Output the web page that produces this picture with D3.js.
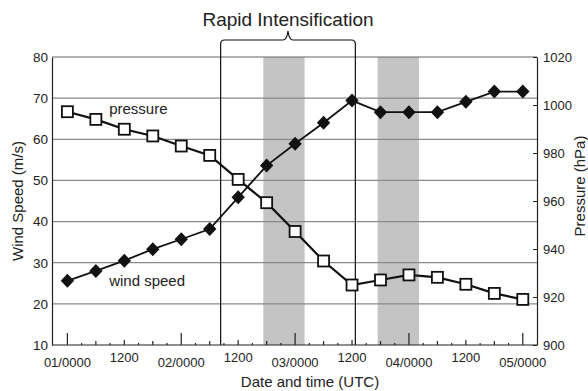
<!DOCTYPE html>
<html>
<head>
<meta charset="utf-8">
<script src="https://cdn.jsdelivr.net/npm/d3@7"></script>
<style>
  body { margin: 0; background: #fff; }
  svg { font-family: "Liberation Sans", Arial, sans-serif; }
</style>
</head>
<body>
<svg id="chart" width="588" height="391"></svg>
<script>
// hours after 01/0000 UTC
const obsHours = [0, 6, 12, 18, 24, 30, 36, 42, 48, 54, 60, 66, 72, 78, 84, 90, 96];
const windSpeed = [25.6, 28.0, 30.5, 33.3, 35.7, 38.2, 45.9, 53.6, 58.9, 64.0, 69.4, 66.6, 66.6, 66.6, 69.1, 71.6, 71.6];
const pressure = [997.2, 994.0, 989.9, 987.1, 982.9, 979.0, 969.0, 959.3, 947.3, 935.0, 925.0, 927.1, 929.2, 928.2, 925.3, 921.5, 919.0];

const xTickHours = [0, 12, 24, 36, 48, 60, 72, 84, 96];
const xTickLabels = ["01/0000", "1200", "02/0000", "1200", "03/0000", "1200", "04/0000", "1200", "05/0000"];
const windTicks = [10, 20, 30, 40, 50, 60, 70, 80];
const pressureTicks = [900, 920, 940, 960, 980, 1000, 1020];

// shaded periods and the rapid intensification window (hours)
const shadedBands = [[41.3, 50.0], [65.4, 74.1]];
const riPeriod = [32.3, 60.7];

const L = 52, R = 537, T = 57, B = 345;
const svg = d3.select("#chart");

const x = d3.scaleLinear().domain([0, 96]).range([67.4, 522.8]);
const yL = d3.scaleLinear().domain([10, 80]).range([B, T]);
const yR = d3.scaleLinear().domain([900, 1020]).range([B, T]);

// shaded bands
svg.append("g").selectAll("rect")
    .data(shadedBands)
    .enter().append("rect")
    .attr("x", d => x(d[0]))
    .attr("y", T)
    .attr("width", d => x(d[1]) - x(d[0]))
    .attr("height", B - T)
    .attr("fill", "#c4c4c4");

// gridlines
svg.append("g").selectAll("line")
    .data(windTicks.slice(1))
    .enter().append("line")
    .attr("x1", L).attr("x2", R)
    .attr("y1", d => yL(d)).attr("y2", d => yL(d))
    .attr("stroke", d => d === 80 ? "#666" : "#8a8a8a")
    .attr("stroke-width", 1.2);

// rapid intensification lines + brace
const riX0 = x(riPeriod[0]), riX1 = x(riPeriod[1]), riMid = (riX0 + riX1) / 2;
svg.append("g").selectAll("line")
    .data(riPeriod)
    .enter().append("line")
    .attr("x1", d => x(d)).attr("x2", d => x(d))
    .attr("y1", 44).attr("y2", B)
    .attr("stroke", "#111").attr("stroke-width", 1.2);

const r = 4;
svg.append("path")
    .attr("d", `M${riX0},44 Q${riX0},40 ${riX0 + r},40 L${riMid - 5},40 Q${riMid - 1},40 ${riMid},31
                Q${riMid + 1},40 ${riMid + 5},40 L${riX1 - r},40 Q${riX1},40 ${riX1},44`)
    .attr("fill", "none").attr("stroke", "#111").attr("stroke-width", 1.2);

svg.append("text")
    .attr("x", riMid).attr("y", 26)
    .attr("text-anchor", "middle")
    .attr("font-size", 19).attr("fill", "#222")
    .text("Rapid Intensification");

// left axis
svg.append("g")
    .attr("transform", `translate(${L},0)`)
    .call(d3.axisLeft(yL).tickValues(windTicks).tickSize(0).tickPadding(4).tickFormat(d3.format("d")))
    .call(g => g.select(".domain").attr("stroke", "#222").attr("stroke-width", 1.2))
    .call(g => g.selectAll("text").attr("font-size", 13.5).attr("fill", "#222").attr("font-family", null));

// right axis
svg.append("g")
    .attr("transform", `translate(${R},0)`)
    .call(d3.axisRight(yR).tickValues(pressureTicks).tickSizeInner(-4).tickSizeOuter(0).tickPadding(6).tickFormat(d3.format("d")))
    .call(g => g.select(".domain").attr("stroke", "#222").attr("stroke-width", 1.2))
    .call(g => g.selectAll("line").attr("stroke", "#222"))
    .call(g => g.selectAll("text").attr("font-size", 13).attr("fill", "#222").attr("font-family", null));

// bottom axis line and ticks every 3 h
svg.append("line")
    .attr("x1", L).attr("x2", R).attr("y1", B).attr("y2", B)
    .attr("stroke", "#222").attr("stroke-width", 1.2);

const tickLen = h => h % 24 === 0 ? 12 : h % 12 === 0 ? 5 : h % 6 === 0 ? 4 : 2;
svg.append("g").selectAll("line")
    .data(d3.range(0, 97, 3))
    .enter().append("line")
    .attr("x1", d => x(d)).attr("x2", d => x(d))
    .attr("y1", B).attr("y2", d => B - tickLen(d))
    .attr("stroke", "#222").attr("stroke-width", 1.2);

svg.append("g").selectAll("text")
    .data(xTickHours)
    .enter().append("text")
    .attr("x", d => x(d))
    .attr("y", d => d % 24 === 0 ? 366.5 : 361.5)
    .attr("text-anchor", "middle")
    .attr("font-size", 13).attr("fill", "#222")
    .text((d, i) => xTickLabels[i]);

// axis titles
svg.append("text")
    .attr("x", 310).attr("y", 386.5)
    .attr("text-anchor", "middle")
    .attr("font-size", 15).attr("fill", "#222")
    .text("Date and time (UTC)");

svg.append("text")
    .attr("transform", `translate(23,${(T + B) / 2}) rotate(-90)`)
    .attr("text-anchor", "middle")
    .attr("font-size", 15).attr("fill", "#222")
    .text("Wind Speed (m/s)");

svg.append("text")
    .attr("transform", `translate(585,186) rotate(-90)`)
    .attr("text-anchor", "middle")
    .attr("font-size", 15).attr("fill", "#222")
    .text("Pressure (hPa)");

// pressure series
svg.append("path")
    .datum(pressure)
    .attr("d", d3.line().x((d, i) => x(obsHours[i])).y(d => yR(d)))
    .attr("fill", "none").attr("stroke", "#111").attr("stroke-width", 2.2);

svg.append("g").selectAll("rect")
    .data(pressure)
    .enter().append("rect")
    .attr("x", (d, i) => x(obsHours[i]) - 5.5)
    .attr("y", d => yR(d) - 5.5)
    .attr("width", 11).attr("height", 11)
    .attr("fill", "#fff").attr("stroke", "#111").attr("stroke-width", 1.8);

// wind speed series
svg.append("path")
    .datum(windSpeed)
    .attr("d", d3.line().x((d, i) => x(obsHours[i])).y(d => yL(d)))
    .attr("fill", "none").attr("stroke", "#111").attr("stroke-width", 1.8);

svg.append("g").selectAll("path")
    .data(windSpeed)
    .enter().append("path")
    .attr("transform", (d, i) => `translate(${x(obsHours[i])},${yL(d)})`)
    .attr("d", "M0,-7L6.7,0L0,7L-6.7,0Z")
    .attr("fill", "#111");

// series labels
svg.append("text")
    .attr("x", x(8.8)).attr("y", yL(66.1))
    .attr("font-size", 15).attr("fill", "#222")
    .text("pressure");

svg.append("text")
    .attr("x", x(8.8)).attr("y", yL(24.3))
    .attr("font-size", 15).attr("fill", "#222")
    .text("wind speed");
</script>
</body>
</html>
